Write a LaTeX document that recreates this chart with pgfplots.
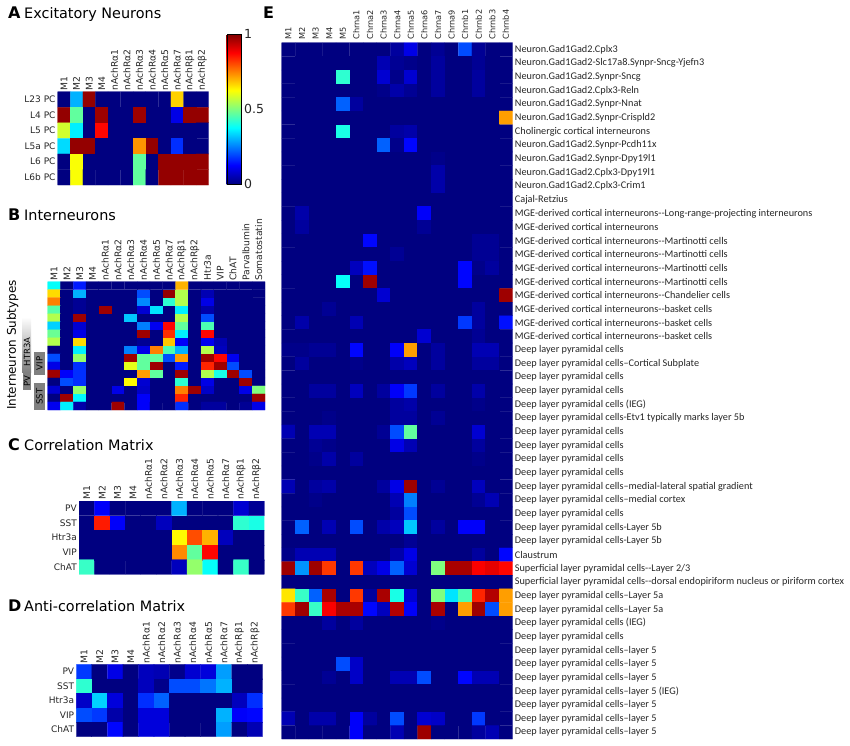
\documentclass[border=0pt]{standalone}
\usepackage{fontspec}
\setmainfont{DejaVu Sans}
\newfontfamily\lab{Carlito}
\usepackage{pgfplots}
\pgfplotsset{compat=1.18}
\usetikzlibrary{shadings}

\pgfplotsset{
  table/flat/.style={row sep=\\, header=false,
    x expr={mod(\coordindex,#1)}, y expr={floor((\coordindex+0.5)/#1)}},
  heat/.style={scale only axis, y dir=reverse, anchor=north west,
    colormap/jet, point meta min=0, point meta max=1,
    axis line style={draw=none}, tick style={draw=none}, major tick length=0pt,
    xticklabel pos=upper, xtick distance=1, ytick distance=1,
    xticklabel style={rotate=90, anchor=west, font=\fontsize{9.2}{10}\selectfont, inner sep=1pt, text=black!85},
    yticklabel style={font=\fontsize{9}{10}\selectfont, inner sep=2pt, text=black!85},
    enlargelimits=false},
  cell/.style={matrix plot, line width=0.2pt, point meta=\thisrowno{0}, mesh/cols=#1},
}
\def\nachr{M1,M2,M3,M4,nAchRα1,nAchRα2,nAchRα3,nAchRα4,nAchRα5,nAchRα7,nAchRβ1,nAchRβ2}
\newcommand\ttl[4]{\node[anchor=base west,inner sep=0pt] at (#1pt,-#2pt) {\fontsize{16}{16}\selectfont\bfseries #3};
  \node[anchor=base west,inner sep=0pt] at (#1pt+16pt,-#2pt) {\fontsize{14.4}{16}\selectfont #4};}

\begin{document}
\begin{tikzpicture}
\path[use as bounding box] (0,0) rectangle (850pt,-745pt);

\ttl{8}{18}{A}{Excitatory Neurons}
\ttl{8}{220}{B}{Interneurons}
\ttl{8}{450}{C}{Correlation Matrix}
\ttl{8}{611.5}{D}{Anti-correlation Matrix}
\node[anchor=base west,inner sep=0pt] at (263pt,-18pt) {\fontsize{16}{16}\selectfont\bfseries E};

% A
\begin{axis}[heat, at={(57.7pt,-91.7pt)}, width=151pt, height=93.3pt,
  xmin=-0.5, xmax=11.5, ymin=-0.5, ymax=5.5,
  xtick={0,...,11}, xticklabels/.expand once=\nachr,
  ytick={0,...,5}, yticklabels={L23 PC,L4 PC,L5 PC,L5a PC,L6 PC,L6b PC},
  colorbar, colorbar shift/.style={xshift=18pt, yshift=57.7pt},
  colorbar style={scale only axis, width=14pt, height=150pt,
    ytick={0,0.5,1}, yticklabel pos=right, major tick length=0pt,
    yticklabel style={font=\fontsize{12.5}{13}\selectfont, /pgf/number format/assume math mode=true, /pgf/number format/fixed, text=black!85}}]
\addplot[cell=12] table[flat=12] {%
0\\.3\\.98\\0\\0\\0\\0\\0\\0\\.67\\0\\0\\%
.98\\.47\\0\\.97\\0\\0\\.97\\0\\0\\.1\\.98\\.98\\%
.58\\.36\\0\\.87\\0\\0\\0\\0\\0\\0\\0\\0\\%
.34\\.98\\.98\\0\\0\\0\\.73\\.98\\0\\.17\\0\\0\\%
0\\.62\\0\\0\\0\\0\\.47\\0\\.98\\.98\\.98\\.98\\%
0\\.62\\0\\0\\0\\0\\.47\\0\\.98\\.98\\.98\\.98\\%
};
\end{axis}

% B
\begin{axis}[heat, at={(47.7pt,-281.7pt)}, width=217.3pt, height=128.3pt,
  xmin=-0.5, xmax=16.5, ymin=-0.5, ymax=15.5,
  xtick={0,...,16}, xticklabels={M1,M2,M3,M4,nAchRα1,nAchRα2,nAchRα3,nAchRα4,nAchRα5,nAchRα7,nAchRβ1,nAchRβ2,Htr3a,VIP,ChAT,Parvalbumin,Somatostatin},
  ytick=\empty]
\addplot[cell=17] table[flat=17] {%
.38\\0\\.15\\0\\0\\0\\0\\0\\0\\0\\.7\\0\\0\\0\\0\\0\\0\\%
.66\\0\\.3\\0\\0\\0\\0\\.2\\0\\.98\\.55\\0\\.05\\0\\0\\0\\0\\%
.75\\0\\.02\\0\\0\\0\\0\\.26\\0\\.42\\.55\\0\\.1\\0\\0\\0\\0\\%
.46\\0\\.02\\0\\.97\\0\\0\\.08\\.35\\0\\.36\\0\\.04\\0\\0\\0\\0\\%
.55\\0\\.97\\0\\0\\0\\.32\\0\\0\\0\\.55\\0\\.2\\0\\0\\0\\0\\%
.33\\0\\.08\\0\\0\\0\\0\\.25\\.11\\.87\\.47\\0\\.45\\0\\0\\0\\0\\%
.48\\0\\.1\\0\\0\\0\\0\\.97\\0\\.83\\.36\\0\\.87\\0\\0\\0\\0\\%
.55\\0\\.66\\0\\0\\0\\0\\.02\\0\\.68\\.12\\0\\.11\\.05\\0\\0\\0\\%
0\\0\\.36\\0\\0\\0\\.25\\.1\\.75\\.45\\.3\\0\\.55\\.06\\0\\0\\0\\%
.2\\0\\.52\\0\\0\\0\\.97\\.47\\.47\\.2\\.72\\0\\.97\\.87\\.11\\0\\0\\%
.1\\0\\.17\\0\\0\\0\\.6\\.47\\.97\\0\\.15\\0\\.84\\.97\\.2\\0\\0\\%
.97\\.12\\.17\\0\\0\\0\\0\\.72\\.47\\0\\.97\\0\\.55\\.4\\.97\\.2\\0\\%
0\\.2\\.17\\0\\0\\0\\.63\\.08\\0\\0\\.42\\0\\.1\\0\\0\\.97\\0\\%
.08\\0\\.52\\0\\0\\.1\\0\\.07\\0\\0\\.75\\.97\\.07\\0\\0\\.1\\.5\\%
0\\.97\\.37\\0\\0\\0\\0\\.12\\0\\0\\.84\\0\\0\\0\\0\\0\\.97\\%
.11\\.36\\.04\\0\\0\\.97\\0\\.12\\0\\0\\.17\\0\\.03\\.03\\0\\.02\\.1\\%
};
\end{axis}
\node[rotate=90, inner sep=0pt] at (12.5pt,-345pt) {\fontsize{12}{12}\selectfont Interneuron Subtypes};
\shade[top color=white, bottom color=gray] (22pt,-317pt) rectangle (31pt,-372pt);
\fill[gray] (22.7pt,-373pt) rectangle (31pt,-390pt);
\fill[gray] (34pt,-352pt) rectangle (45pt,-375pt);
\fill[gray] (34pt,-383pt) rectangle (45pt,-410pt);
\node[rotate=90, inner sep=0pt] at (27pt,-352pt) {\fontsize{8.5}{9}\selectfont HTR3A};
\node[rotate=90, inner sep=0pt] at (27pt,-381.5pt) {\fontsize{8.5}{9}\selectfont PV};
\node[rotate=90, inner sep=0pt] at (39.5pt,-363.5pt) {\fontsize{8.5}{9}\selectfont VIP};
\node[rotate=90, inner sep=0pt] at (39.5pt,-396.5pt) {\fontsize{8.5}{9}\selectfont SST};

% C
\begin{axis}[heat, at={(79pt,-501pt)}, width=185.3pt, height=73.3pt,
  xmin=-0.5, xmax=11.5, ymin=-0.5, ymax=4.5,
  xtick={0,...,11}, xticklabels/.expand once=\nachr,
  ytick={0,...,4}, yticklabels={PV,SST,Htr3a,VIP,ChAT}]
\addplot[cell=12] table[flat=12] {%
0\\.12\\0\\0\\0\\0\\.3\\0\\0\\0\\.08\\.02\\%
0\\.85\\.12\\0\\0\\.06\\0\\0\\0\\0\\.42\\.4\\%
0\\0\\0\\0\\0\\0\\.63\\.8\\.7\\.06\\0\\0\\%
0\\0\\0\\0\\0\\0\\.74\\.47\\.87\\0\\0\\0\\%
.43\\0\\0\\0\\0\\0\\.06\\.52\\.38\\0\\.43\\0\\%
};
\end{axis}

% D
\begin{axis}[heat, at={(76.3pt,-664.3pt)}, width=186.4pt, height=72.4pt,
  xmin=-0.5, xmax=11.5, ymin=-0.5, ymax=4.5,
  xtick={0,...,11}, xticklabels/.expand once=\nachr,
  ytick={0,...,4}, yticklabels={PV,SST,Htr3a,VIP,ChAT}]
\addplot[cell=12] table[flat=12] {%
.18\\0\\.1\\0\\.06\\.05\\.01\\.08\\.09\\.28\\0\\0\\%
.42\\0\\0\\0\\.06\\.01\\.2\\.2\\.24\\.3\\0\\0\\%
.07\\.33\\.09\\0\\.17\\.22\\0\\0\\0\\0\\.06\\.17\\%
.2\\.18\\.04\\0\\.09\\.09\\0\\0\\0\\.3\\.12\\.13\\%
0\\0\\.13\\0\\.09\\.09\\0\\0\\0\\.28\\0\\.05\\%
};
\end{axis}

% E
\begin{axis}[heat, at={(281.7pt,-42.7pt)}, width=231pt, height=696.3pt,
  xmin=-0.5, xmax=16.5, ymin=-0.5, ymax=50.5,
  xtick={0,...,16}, xticklabels={M1,M2,M3,M4,M5,Chrna1,Chrna2,Chrna3,Chrna4,Chrna5,Chrna6,Chrna7,Chrna9,Chrnb1,Chrnb2,Chrnb3,Chrnb4},
  xticklabel style={font=\fontsize{8.2}{9}\selectfont, inner sep=3pt},
  ytick={0,...,50}, yticklabel pos=right,
  yticklabel style={font=\lab\fontsize{10.25}{10}\selectfont, anchor=west, inner sep=2pt},
  yticklabels={Neuron.Gad1Gad2.Cplx3,
    Neuron.Gad1Gad2-Slc17a8.Synpr-Sncg-Yjefn3,
    Neuron.Gad1Gad2.Synpr-Sncg,
    Neuron.Gad1Gad2.Cplx3-Reln,
    Neuron.Gad1Gad2.Synpr-Nnat,
    Neuron.Gad1Gad2.Synpr-Crispld2,
    Cholinergic cortical  interneurons,
    Neuron.Gad1Gad2.Synpr-Pcdh11x,
    Neuron.Gad1Gad2.Synpr-Dpy19l1,
    Neuron.Gad1Gad2.Cplx3-Dpy19l1,
    Neuron.Gad1Gad2.Cplx3-Crim1,
    Cajal-Retzius,
    MGE-derived cortical interneurons{-}{-}Long-range-projecting interneurons,
    MGE-derived cortical interneurons,
    MGE-derived cortical interneurons{-}{-}Martinotti cells,
    MGE-derived cortical interneurons{-}{-}Martinotti cells,
    MGE-derived cortical interneurons{-}{-}Martinotti cells,
    MGE-derived cortical interneurons{-}{-}Martinotti cells,
    MGE-derived cortical interneurons{-}{-}Chandelier cells,
    MGE-derived cortical interneurons{-}{-}basket cells,
    MGE-derived cortical interneurons{-}{-}basket cells,
    MGE-derived cortical interneurons{-}{-}basket cells,
    Deep layer pyramidal cells,
    Deep layer pyramidal cells–Cortical Subplate,
    Deep layer pyramidal cells,
    Deep layer pyramidal cells,
    Deep layer pyramidal cells (IEG),
    Deep layer pyramidal cells-Etv1 typically marks layer 5b,
    Deep layer pyramidal cells,
    Deep layer pyramidal cells,
    Deep layer pyramidal cells,
    Deep layer pyramidal cells,
    Deep layer pyramidal cells–medial-lateral spatial gradient,
    Deep layer pyramidal cells–medial cortex,
    Deep layer pyramidal cells,
    Deep layer pyramidal cells-Layer 5b,
    Deep layer pyramidal cells-Layer 5b,
    Claustrum,
    Superficial layer pyramidal cells{-}{-}Layer 2/3,
    Superficial layer pyramidal cells{-}{-}dorsal endopiriform nucleus or piriform cortex,
    Deep layer pyramidal cells–Layer 5a,
    Deep layer pyramidal cells–Layer 5a,
    Deep layer pyramidal cells (IEG),
    Deep layer pyramidal cells,
    Deep layer pyramidal cells–layer 5,
    Deep layer pyramidal cells–layer 5,
    Deep layer pyramidal cells–layer 5,
    Deep layer pyramidal cells–layer 5 (IEG),
    Deep layer pyramidal cells–layer 5,
    Deep layer pyramidal cells–layer 5,
    Deep layer pyramidal cells–layer 5}]
\addplot[cell=17] table[flat=17] {%
0\\0\\0\\0\\0\\0\\0\\0\\.03\\.1\\0\\.02\\0\\.2\\.02\\0\\0\\%
0\\0\\0\\0\\0\\0\\0\\.05\\.02\\.01\\0\\.03\\0\\0\\.02\\0\\0\\%
0\\0\\0\\0\\.42\\0\\0\\.08\\.01\\.08\\0\\.03\\0\\0\\.03\\0\\0\\%
0\\0\\0\\0\\0\\0\\0\\.01\\.04\\.02\\0\\.03\\0\\0\\.03\\0\\0\\%
0\\0\\0\\0\\.22\\.03\\0\\0\\0\\0\\0\\0\\0\\0\\0\\0\\0\\%
0\\0\\0\\0\\0\\0\\0\\0\\0\\0\\0\\0\\0\\0\\0\\0\\.72\\%
0\\0\\0\\0\\.4\\0\\0\\0\\.03\\.04\\0\\0\\0\\0\\0\\0\\0\\%
0\\0\\0\\0\\0\\0\\0\\.22\\.01\\.13\\0\\0\\0\\0\\0\\0\\0\\%
0\\0\\0\\0\\0\\0\\0\\0\\0\\0\\0\\.01\\0\\0\\0\\0\\0\\%
0\\0\\0\\0\\0\\0\\0\\0\\0\\0\\0\\.04\\0\\0\\0\\0\\0\\%
0\\0\\0\\0\\0\\0\\0\\0\\0\\0\\0\\.04\\0\\0\\0\\0\\0\\%
0\\0\\0\\0\\0\\0\\0\\0\\0\\0\\0\\0\\0\\0\\0\\0\\0\\%
0\\.04\\0\\0\\0\\0\\0\\0\\0\\0\\.12\\0\\0\\0\\0\\0\\0\\%
0\\.03\\0\\0\\0\\0\\0\\0\\0\\0\\.02\\0\\0\\0\\0\\0\\0\\%
0\\0\\0\\0\\0\\0\\.13\\0\\0\\0\\0\\0\\0\\0\\.02\\.02\\0\\%
0\\0\\0\\0\\0\\0\\0\\0\\.02\\0\\0\\0\\0\\0\\.02\\.02\\0\\%
0\\0\\0\\0\\0\\.06\\.14\\0\\0\\0\\0\\0\\0\\.13\\.01\\.03\\0\\%
0\\0\\0\\0\\.38\\0\\.97\\0\\0\\0\\0\\0\\0\\.13\\0\\0\\0\\%
0\\0\\0\\0\\0\\0\\0\\.08\\0\\0\\0\\0\\0\\0\\0\\0\\.97\\%
0\\0\\0\\.02\\0\\0\\0\\0\\0\\0\\0\\0\\0\\0\\.03\\0\\0\\%
0\\.04\\0\\0\\0\\.05\\0\\0\\0\\0\\0\\0\\0\\.18\\.03\\0\\.14\\%
0\\0\\0\\0\\0\\0\\0\\0\\0\\0\\.08\\0\\0\\0\\.02\\0\\0\\%
.01\\.01\\.02\\.02\\0\\.13\\0\\0\\.12\\.72\\0\\.03\\0\\0\\.05\\.05\\0\\%
0\\.03\\0\\0\\0\\.01\\0\\0\\.04\\.06\\0\\.03\\0\\0\\.03\\.03\\0\\%
0\\0\\0\\0\\0\\0\\0\\0\\0\\0\\0\\0\\0\\0\\0\\0\\0\\%
0\\0\\.03\\.03\\0\\.06\\0\\.03\\.12\\.18\\0\\.03\\0\\0\\.04\\0\\0\\%
0\\0\\0\\0\\0\\0\\0\\0\\.03\\.04\\0\\0\\0\\0\\.01\\0\\0\\%
0\\0\\0\\.01\\0\\0\\0\\0\\.03\\.03\\0\\.02\\0\\0\\0\\0\\0\\%
.05\\0\\.05\\.05\\0\\0\\0\\.02\\.2\\.47\\0\\0\\0\\0\\.08\\0\\0\\%
0\\0\\.02\\.01\\0\\0\\0\\0\\.1\\.05\\0\\0\\0\\0\\.03\\0\\0\\%
0\\0\\.01\\.04\\0\\.03\\0\\0\\0\\0\\0\\0\\0\\0\\.01\\0\\0\\%
0\\0\\0\\0\\0\\0\\0\\0\\0\\0\\0\\0\\0\\0\\0\\0\\0\\%
.05\\0\\.03\\.04\\0\\0\\0\\.03\\.1\\.97\\0\\.02\\0\\0\\.06\\0\\0\\%
0\\0\\.01\\0\\0\\0\\0\\0\\.05\\.25\\0\\0\\0\\0\\.02\\.05\\0\\%
0\\0\\0\\0\\0\\0\\0\\0\\.03\\.2\\0\\0\\0\\0\\0\\0\\0\\%
0\\.22\\0\\.05\\0\\.2\\0\\.04\\.06\\.32\\0\\.03\\0\\.12\\.12\\0\\0\\%
0\\0\\0\\0\\0\\0\\0\\0\\0\\.02\\0\\0\\0\\0\\0\\0\\0\\%
.01\\.05\\.05\\.05\\0\\0\\0\\0\\.04\\.1\\0\\0\\0\\0\\.03\\0\\.13\\%
.97\\.27\\.97\\.82\\0\\.82\\.06\\.1\\.22\\.08\\0\\.5\\.96\\.96\\.88\\.9\\.87\\%
0\\0\\0\\0\\0\\0\\0\\0\\0\\0\\0\\0\\0\\0\\0\\0\\0\\%
.65\\.43\\.22\\.96\\0\\.82\\.03\\.96\\.4\\.08\\0\\.5\\.35\\.45\\.84\\.95\\.72\\%
.82\\.97\\.43\\.88\\.96\\.96\\.13\\.06\\.95\\.12\\0\\.96\\0\\.72\\.97\\.2\\.72\\%
0\\0\\0\\.03\\0\\.03\\0\\0\\0\\0\\0\\.01\\0\\0\\0\\0\\0\\%
0\\0\\0\\0\\0\\0\\0\\0\\0\\0\\0\\0\\0\\0\\0\\0\\0\\%
0\\0\\0\\0\\0\\0\\0\\0\\0\\0\\0\\0\\0\\0\\0\\0\\0\\%
0\\0\\0\\0\\.2\\.07\\0\\0\\0\\0\\0\\0\\0\\0\\0\\0\\0\\%
0\\0\\0\\.02\\0\\.07\\0\\0\\.05\\.05\\.2\\0\\0\\.13\\.05\\.05\\0\\%
0\\0\\0\\0\\0\\0\\0\\0\\0\\0\\0\\0\\0\\0\\0\\0\\0\\%
0\\0\\0\\0\\0\\0\\0\\0\\0\\0\\0\\0\\0\\0\\0\\0\\0\\%
.05\\0\\.04\\.04\\0\\.12\\.03\\0\\.2\\0\\.08\\.07\\0\\0\\.18\\0\\0\\%
0\\0\\0\\0\\0\\.12\\0\\0\\.05\\0\\.97\\0\\0\\0\\.03\\.05\\0\\%
};
\end{axis}
\end{tikzpicture}
\end{document}
